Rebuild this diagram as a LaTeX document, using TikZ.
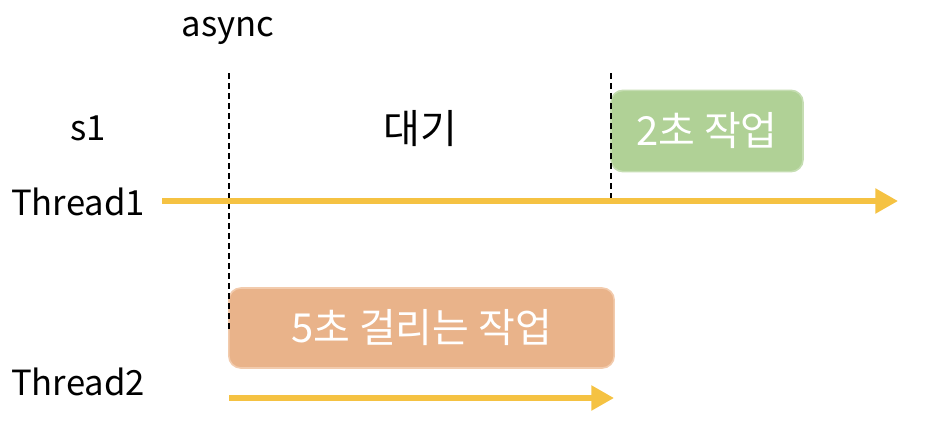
\documentclass[tikz,border=0pt]{standalone}
\usepackage{fontspec}
\setmainfont{Noto Sans CJK KR}
\usetikzlibrary{arrows.meta}
\definecolor{arrowyellow}{HTML}{F5C242}
\definecolor{greenfill}{HTML}{B0D196}
\definecolor{greenline}{HTML}{C5DDB2}
\definecolor{orangefill}{HTML}{E9B38A}
\definecolor{orangeline}{HTML}{F2CBAD}
\tikzset{
  lbl/.style={font=\fontsize{26}{30}\selectfont, text=black, inner sep=0pt},
  klbl/.style={font=\fontsize{30}{34}\selectfont, text=black, inner sep=0pt},
  task/.style={rounded corners=9pt, line width=1.2pt, text=white, font=\fontsize{30}{34}\selectfont, inner sep=0pt},
  timeline/.style={draw=arrowyellow, line width=4pt, -{Triangle[length=17pt,width=18pt]}},
  marker/.style={draw=black, line width=1.2pt, dash pattern=on 4.5pt off 3pt}
}
\begin{document}
\begin{tikzpicture}[x=0.75pt,y=-0.75pt]
\useasboundingbox (0,0) rectangle (930,432);
% labels
\node[lbl] (async) at (228,31) {async};
\node[lbl] (s1) at (88,128) {s1};
\node[klbl] (wait) at (420,129) {대기};
\node[lbl] (t1) at (78,202) {Thread1};
\node[lbl] (t2) at (78,382) {Thread2};
% task boxes
\node[task, fill=greenfill, draw=greenline, minimum width=144pt, minimum height=61pt] (green) at (707,131) {2초 작업};
\node[task, fill=orangefill, draw=orangeline, minimum width=289pt, minimum height=60pt] (orange) at (421.5,328) {5초 걸리는 작업};
% coordinates
\coordinate (a1s) at (162,201);
\coordinate (a1e) at (898,201);
\coordinate (a2s) at (229,398);
\coordinate (a2e) at (614,398);
\coordinate (d1t) at (229,73);
\coordinate (d1b) at (229,329);
\coordinate (d2t) at (611,73);
\coordinate (d2b) at (611,200);
% dashed markers
\draw[marker] (d1t) -- (d1b);
\draw[marker] (d2t) -- (d2b);
% timelines
\draw[timeline] (a1s) -- (a1e);
\draw[timeline] (a2s) -- (a2e);
\end{tikzpicture}
\end{document}
